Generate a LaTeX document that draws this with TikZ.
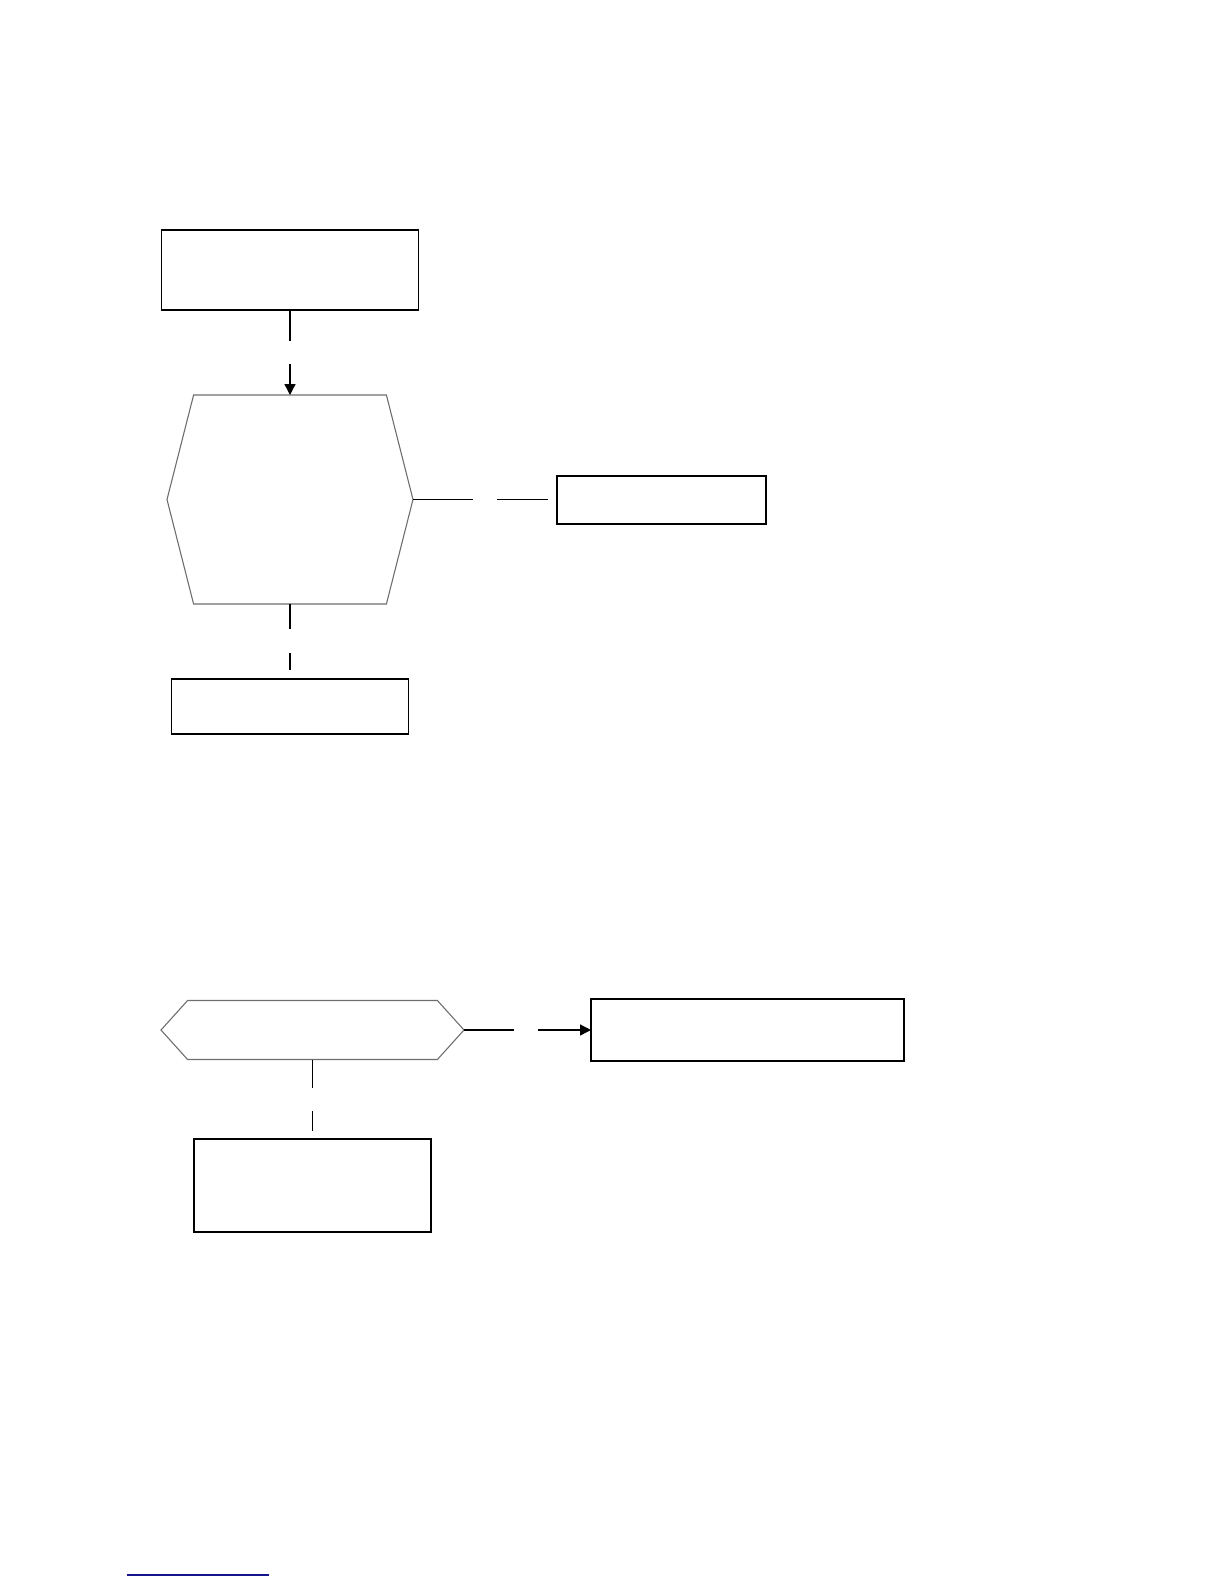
\documentclass[tikz,border=0pt]{standalone}
\usetikzlibrary{arrows.meta}
\definecolor{linkblue}{RGB}{20,20,140}
\definecolor{hexgray}{RGB}{110,110,110}
\tikzset{
  box/.style={draw=black, line width=0.7pt, fill=white, rectangle, inner sep=0pt, outer sep=0pt},
  hexframe/.style={rectangle, inner sep=0pt, outer sep=0pt},
  hexline/.style={draw=hexgray, line width=0.55pt},
  conn/.style={draw=black, line width=0.7pt},
  arr/.style={conn, -{Triangle[length=5.5bp,width=5.5bp]}},
}
\begin{document}
\begin{tikzpicture}[x=0.5bp,y=-0.5bp]
\useasboundingbox (0,0) rectangle (1224,1584);
% upper flow
\node[box, minimum width=128.5bp, minimum height=40bp] (b1) at (290,270) {};
\node[hexframe, minimum width=123bp, minimum height=104.5bp] (h1) at (290,499.5) {};
\draw[hexline] (h1.west) -- ([xshift=13.3bp]h1.north west) -- ([xshift=-13.3bp]h1.north east)
  -- (h1.east) -- ([xshift=-13.3bp]h1.south east) -- ([xshift=13.3bp]h1.south west) -- cycle;
\node[box, minimum width=104.5bp, minimum height=24bp] (b2) at (661.5,500) {};
\node[box, minimum width=118.5bp, minimum height=27.5bp] (b3) at (290,706.5) {};
% lower flow
\node[hexframe, minimum width=151.5bp, minimum height=29.5bp] (h2) at (312.5,1030) {};
\draw[hexline] (h2.west) -- ([xshift=13.3bp]h2.north west) -- ([xshift=-13.3bp]h2.north east)
  -- (h2.east) -- ([xshift=-13.3bp]h2.south east) -- ([xshift=13.3bp]h2.south west) -- cycle;
\node[box, minimum width=156.5bp, minimum height=31bp] (b4) at (747.5,1030) {};
\node[box, minimum width=118.5bp, minimum height=46.5bp] (b5) at (312.5,1185.5) {};
% gap coordinates
\coordinate (g1a) at (290,341);
\coordinate (g1b) at (290,364);
\coordinate (g2a) at (473,499.5);
\coordinate (g2b) at (497,499.5);
\coordinate (g2c) at (548,499.5);
\coordinate (g3a) at (290,629);
\coordinate (g3b) at (290,653);
\coordinate (g3c) at (290,670);
\coordinate (g4a) at (514,1030);
\coordinate (g4b) at (538,1030);
\coordinate (g5a) at (312.5,1088);
\coordinate (g5b) at (312.5,1111);
\coordinate (g5c) at (312.5,1131);
% connectors
\draw[conn] (b1.south) -- (g1a);
\draw[arr] (g1b) -- (h1.north);
\draw[conn] (h1.east) -- (g2a);
\draw[conn] (g2b) -- (g2c);
\draw[conn] (h1.south) -- (g3a);
\draw[conn] (g3b) -- (g3c);
\draw[conn] (h2.east) -- (g4a);
\draw[arr] (g4b) -- (b4.west);
\draw[conn] (h2.south) -- (g5a);
\draw[conn] (g5b) -- (g5c);
% footer rule
\coordinate (f1) at (127,1575);
\coordinate (f2) at (269,1575);
\draw[draw=linkblue, line width=0.8pt] (f1) -- (f2);
\end{tikzpicture}
\end{document}
